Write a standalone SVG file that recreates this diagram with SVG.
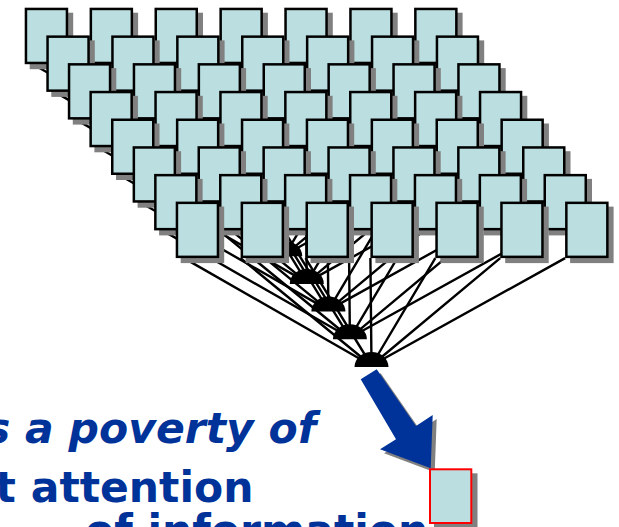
<svg xmlns="http://www.w3.org/2000/svg" xmlns:xlink="http://www.w3.org/1999/xlink" width="619" height="527" viewBox="0 0 619 527">
<style>
.bx{fill:#BBDFE1;stroke:#000;stroke-width:2.5}
.sh{fill:#808080}
.ln{stroke:#000;stroke-width:2.4;fill:none}
.dm{fill:#000}
.t{font-family:"DejaVu Sans",Verdana,"Liberation Sans",sans-serif;font-weight:bold;fill:#003399}
</style>
<defs>
<g id="box"><rect class="sh" x="5" y="5" width="43.5" height="56.5"/><rect class="bx" x="1.25" y="1.25" width="41" height="54"/></g>
<path id="dome" d="M-17,0.5 A17,15 0 0 1 17,0.5 Z"/>
</defs>
<rect width="619" height="527" fill="#fff"/>
<g id="connectors" class="ln">
<path d="M33,64.2L220.5,171.6M89.6,64.2L220.5,171.6M154.5,64.2L220.5,171.6M219.4,64.2L220.5,171.6M284.3,64.2L220.5,171.6M349.2,64.2L220.5,171.6M414.1,64.2L220.5,171.6"/>
<path d="M54.6,91.9L242.1,199.3M111.2,91.9L242.1,199.3M176.1,91.9L242.1,199.3M241,91.9L242.1,199.3M305.9,91.9L242.1,199.3M370.8,91.9L242.1,199.3M435.7,91.9L242.1,199.3"/>
<path d="M76.1,119.6L263.7,227M132.7,119.6L263.7,227M197.6,119.6L263.7,227M262.5,119.6L263.7,227M327.4,119.6L263.7,227M392.3,119.6L263.7,227M457.2,119.6L263.7,227"/>
<path d="M97.7,147.3L285.2,254.7M154.3,147.3L285.2,254.7M219.2,147.3L285.2,254.7M284.1,147.3L285.2,254.7M349,147.3L285.2,254.7M413.9,147.3L285.2,254.7M478.8,147.3L285.2,254.7"/>
<path d="M119.3,175L306.8,282.4M175.9,175L306.8,282.4M240.8,175L306.8,282.4M305.7,175L306.8,282.4M370.6,175L306.8,282.4M435.5,175L306.8,282.4M500.4,175L306.8,282.4"/>
<path d="M140.9,202.7L328.4,310.1M197.5,202.7L328.4,310.1M262.4,202.7L328.4,310.1M327.3,202.7L328.4,310.1M392.2,202.7L328.4,310.1M457.1,202.7L328.4,310.1M522,202.7L328.4,310.1"/>
<path d="M162.4,230.4L349.9,337.8M219,230.4L349.9,337.8M283.9,230.4L349.9,337.8M348.8,230.4L349.9,337.8M413.7,230.4L349.9,337.8M478.6,230.4L349.9,337.8M543.5,230.4L349.9,337.8"/>
<path d="M184,258.1L371.5,365.5M240.6,258.1L371.5,365.5M305.5,258.1L371.5,365.5M370.4,258.1L371.5,365.5M435.3,258.1L371.5,365.5M500.2,258.1L371.5,365.5M565.1,258.1L371.5,365.5"/>
<g id="big-arrow" stroke="none">
<polygon class="sh" transform="translate(4,4)" points="360.7,379.3 376.7,369.3 416,426 432.7,415 430.7,468.3 380,449.3 396,439.3"/>
<polygon fill="#003399" points="360.7,379.3 376.7,369.3 416,426 432.7,415 430.7,468.3 380,449.3 396,439.3"/>
</g>
</g>
<g id="domes" class="dm">
<use id="dome-0" xlink:href="#dome" x="220.5" y="172.6"/>
<use id="dome-1" xlink:href="#dome" x="242.1" y="200.3"/>
<use id="dome-2" xlink:href="#dome" x="263.7" y="228"/>
<use id="dome-3" xlink:href="#dome" x="285.2" y="255.7"/>
<use id="dome-4" xlink:href="#dome" x="306.8" y="283.4"/>
<use id="dome-5" xlink:href="#dome" x="328.4" y="311.1"/>
<use id="dome-6" xlink:href="#dome" x="349.9" y="338.8"/>
<use id="dome-7" xlink:href="#dome" x="371.5" y="366.5"/>
</g>
<g id="row0">
<g id="b00"><use xlink:href="#box" x="24.7" y="7.7"/></g><g id="b01"><use xlink:href="#box" x="89.6" y="7.7"/></g><g id="b02"><use xlink:href="#box" x="154.5" y="7.7"/></g><g id="b03"><use xlink:href="#box" x="219.4" y="7.7"/></g><g id="b04"><use xlink:href="#box" x="284.3" y="7.7"/></g><g id="b05"><use xlink:href="#box" x="349.2" y="7.7"/></g><g id="b06"><use xlink:href="#box" x="414.1" y="7.7"/></g>
</g>
<g id="row1">
<g id="b10"><use xlink:href="#box" x="46.3" y="35.4"/></g><g id="b11"><use xlink:href="#box" x="111.2" y="35.4"/></g><g id="b12"><use xlink:href="#box" x="176.1" y="35.4"/></g><g id="b13"><use xlink:href="#box" x="241" y="35.4"/></g><g id="b14"><use xlink:href="#box" x="305.9" y="35.4"/></g><g id="b15"><use xlink:href="#box" x="370.8" y="35.4"/></g><g id="b16"><use xlink:href="#box" x="435.7" y="35.4"/></g>
</g>
<g id="row2">
<g id="b20"><use xlink:href="#box" x="67.8" y="63.1"/></g><g id="b21"><use xlink:href="#box" x="132.7" y="63.1"/></g><g id="b22"><use xlink:href="#box" x="197.6" y="63.1"/></g><g id="b23"><use xlink:href="#box" x="262.5" y="63.1"/></g><g id="b24"><use xlink:href="#box" x="327.4" y="63.1"/></g><g id="b25"><use xlink:href="#box" x="392.3" y="63.1"/></g><g id="b26"><use xlink:href="#box" x="457.2" y="63.1"/></g>
</g>
<g id="row3">
<g id="b30"><use xlink:href="#box" x="89.4" y="90.8"/></g><g id="b31"><use xlink:href="#box" x="154.3" y="90.8"/></g><g id="b32"><use xlink:href="#box" x="219.2" y="90.8"/></g><g id="b33"><use xlink:href="#box" x="284.1" y="90.8"/></g><g id="b34"><use xlink:href="#box" x="349" y="90.8"/></g><g id="b35"><use xlink:href="#box" x="413.9" y="90.8"/></g><g id="b36"><use xlink:href="#box" x="478.8" y="90.8"/></g>
</g>
<g id="row4">
<g id="b40"><use xlink:href="#box" x="111" y="118.5"/></g><g id="b41"><use xlink:href="#box" x="175.9" y="118.5"/></g><g id="b42"><use xlink:href="#box" x="240.8" y="118.5"/></g><g id="b43"><use xlink:href="#box" x="305.7" y="118.5"/></g><g id="b44"><use xlink:href="#box" x="370.6" y="118.5"/></g><g id="b45"><use xlink:href="#box" x="435.5" y="118.5"/></g><g id="b46"><use xlink:href="#box" x="500.4" y="118.5"/></g>
</g>
<g id="row5">
<g id="b50"><use xlink:href="#box" x="132.6" y="146.2"/></g><g id="b51"><use xlink:href="#box" x="197.5" y="146.2"/></g><g id="b52"><use xlink:href="#box" x="262.4" y="146.2"/></g><g id="b53"><use xlink:href="#box" x="327.3" y="146.2"/></g><g id="b54"><use xlink:href="#box" x="392.2" y="146.2"/></g><g id="b55"><use xlink:href="#box" x="457.1" y="146.2"/></g><g id="b56"><use xlink:href="#box" x="522" y="146.2"/></g>
</g>
<g id="row6">
<g id="b60"><use xlink:href="#box" x="154.1" y="173.9"/></g><g id="b61"><use xlink:href="#box" x="219" y="173.9"/></g><g id="b62"><use xlink:href="#box" x="283.9" y="173.9"/></g><g id="b63"><use xlink:href="#box" x="348.8" y="173.9"/></g><g id="b64"><use xlink:href="#box" x="413.7" y="173.9"/></g><g id="b65"><use xlink:href="#box" x="478.6" y="173.9"/></g><g id="b66"><use xlink:href="#box" x="543.5" y="173.9"/></g>
</g>
<g id="row7">
<g id="b70"><use xlink:href="#box" x="175.7" y="201.6"/></g><g id="b71"><use xlink:href="#box" x="240.6" y="201.6"/></g><g id="b72"><use xlink:href="#box" x="305.5" y="201.6"/></g><g id="b73"><use xlink:href="#box" x="370.4" y="201.6"/></g><g id="b74"><use xlink:href="#box" x="435.3" y="201.6"/></g><g id="b75"><use xlink:href="#box" x="500.2" y="201.6"/></g><g id="b76"><use xlink:href="#box" x="565.1" y="201.6"/></g>
</g>
<g id="output-box">
<rect class="sh" x="434" y="473.3" width="43.5" height="56"/>
<rect x="430" y="469.3" width="41.3" height="53.7" fill="#BBDFE1" stroke="#FF0000" stroke-width="2"/>
</g>
<g id="caption">
<text class="t" x="-15" y="443" font-size="42.5" font-style="italic">s a poverty of</text>
<text class="t" x="-4.4" y="502" font-size="42.5">t attention</text>
<text class="t" x="85" y="545" font-size="42.5">of information</text>
</g>
</svg>
